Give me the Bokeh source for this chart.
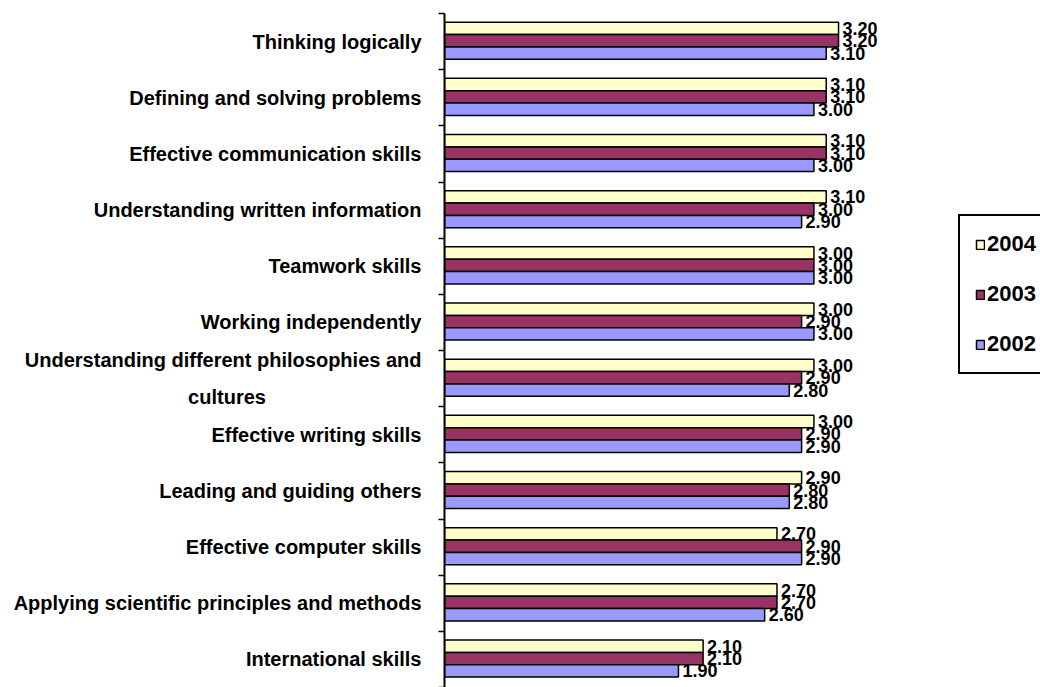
from bokeh.plotting import figure
from bokeh.models import (Range1d, FixedTicker, Legend, LegendItem,
                          ColumnDataSource)
from bokeh.transform import dodge
from bokeh.core.properties import value
from bokeh.embed import file_html
from bokeh.resources import INLINE

categories = [
    "Thinking logically",
    "Defining and solving problems",
    "Effective communication skills",
    "Understanding written information",
    "Teamwork skills",
    "Working independently",
    "Understanding different philosophies and\ncultures",
    "Effective writing skills",
    "Leading and guiding others",
    "Effective computer skills",
    "Applying scientific principles and methods",
    "International skills",
]
years = ["2004", "2003", "2002"]
values_2004 = [3.20, 3.10, 3.10, 3.10, 3.00, 3.00, 3.00, 3.00, 2.90, 2.70, 2.70, 2.10]
values_2003 = [3.20, 3.10, 3.10, 3.00, 3.00, 2.90, 2.90, 2.90, 2.80, 2.90, 2.70, 2.10]
values_2002 = [3.10, 3.00, 3.00, 2.90, 3.00, 3.00, 2.80, 2.90, 2.80, 2.90, 2.60, 1.90]

colors = {"2004": "#FFFFCC", "2003": "#993366", "2002": "#9999FF"}
offsets = {"2004": -0.235, "2003": -0.015, "2002": 0.205}
series = {"2004": values_2004, "2003": values_2003, "2002": values_2002}

FONT = "Liberation Sans"

n = len(categories)
centers = [i + 0.5 for i in range(n)]
data = {"y": centers}
for yr in years:
    data["v" + yr] = series[yr]
    data["l" + yr] = ["%.2f" % v for v in series[yr]]
source = ColumnDataSource(data)

X_END = 4.84
p = figure(width=1040, height=687, output_backend="svg", toolbar_location=None,
           x_range=Range1d(0, X_END), y_range=Range1d(n, 0),
           min_border_left=444, min_border_top=13, min_border_bottom=0,
           min_border_right=0)
p.outline_line_color = None
p.xgrid.visible = False
p.ygrid.visible = False
p.xaxis.visible = False

bars = {}
for yr in years:
    bars[yr] = p.hbar(y=dodge("y", offsets[yr]), left=0, right="v" + yr,
                      height=0.22, source=source, fill_color=colors[yr],
                      line_color="black", line_width=1.5)

for yr in years:
    p.text(x="v" + yr, y=dodge("y", offsets[yr]), text="l" + yr, source=source,
           x_offset=4, text_baseline="middle", text_align="left",
           text_font=value(FONT), text_font_style="bold",
           text_font_size="18px", text_color="black")


def centred(label):
    # second line of a wrapped label is centred under the first one
    if "\n" not in label:
        return label
    first, second = label.split("\n", 1)
    return first + "\n" + second + "\u00a0" * 28


yax = p.yaxis[0]
yax.ticker = FixedTicker(ticks=centers, minor_ticks=list(range(n + 1)))
yax.major_label_overrides = {c: centred(name) for c, name in zip(centers, categories)}
yax.major_tick_line_color = None
yax.major_tick_out = 0
yax.major_tick_in = 0
yax.minor_tick_out = 6
yax.minor_tick_in = 0
yax.minor_tick_line_color = "black"
yax.minor_tick_line_width = 1.5
yax.axis_line_color = "black"
yax.axis_line_width = 2
yax.major_label_standoff = 17
yax.major_label_text_font = FONT
yax.major_label_text_font_style = "bold"
yax.major_label_text_font_size = "20px"
yax.major_label_text_color = "black"
yax.major_label_text_line_height = 1.7

legend = Legend(items=[LegendItem(label=yr, renderers=[bars[yr]]) for yr in years],
                location=(514, 313))
legend.border_line_color = "black"
legend.border_line_alpha = 1
legend.border_line_width = 2
legend.background_fill_color = "white"
legend.background_fill_alpha = 1
legend.label_text_font = FONT
legend.label_text_font_style = "bold"
legend.label_text_font_size = "22px"
legend.label_text_color = "black"
legend.glyph_width = 10
legend.glyph_height = 11
legend.label_standoff = 2
legend.padding = 15
legend.spacing = 24
legend.margin = 0
p.add_layout(legend)

open("out.html", "w").write(file_html(p, INLINE))
